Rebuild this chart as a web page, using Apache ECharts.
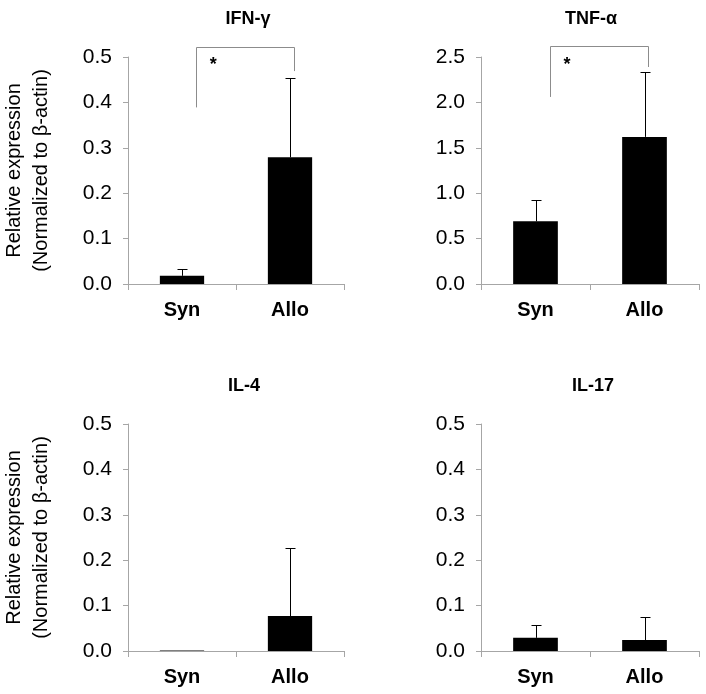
<!DOCTYPE html>
<html>
<head>
<meta charset="utf-8">
<script src="https://cdn.jsdelivr.net/npm/echarts@6/dist/echarts.min.js"></script>
<style>html,body{margin:0;padding:0;background:#fff;}#c{width:706px;height:694px;}</style>
</head>
<body>
<div id="c"></div>
<script>
// ---- data ----
const categories = ['Syn', 'Allo'];
const panelTitles = ['IFN-γ', 'TNF-α', 'IL-4', 'IL-17'];
const ifnMean = [0.018, 0.279];
const ifnUpper = [0.033, 0.453];
const tnfMean = [0.69, 1.62];
const tnfUpper = [0.925, 2.34];
const il4Mean = [0.001, 0.077];
const il4Upper = [0.001, 0.227];
const il17Mean = [0.029, 0.024];
const il17Upper = [0.057, 0.075];
const yMaxes = [0.5, 2.5, 0.5, 0.5];
const yIntervals = [0.1, 0.5, 0.1, 0.1];
// significance brackets: [left leg bottom, top, right leg bottom, star height]
const ifnBracket = [0.389, 0.522, 0.469, 0.482];
const tnfBracket = [2.06, 2.62, 2.39, 2.41];

const means = [ifnMean, tnfMean, il4Mean, il17Mean];
const uppers = [ifnUpper, tnfUpper, il4Upper, il17Upper];
const brackets = [ifnBracket, tnfBracket, null, null];

// ---- layout ----
const FONT = 'Liberation Sans, Arial, Helvetica, sans-serif';
const gridPos = [
  {left: 126, top: 57}, {left: 481, top: 57},
  {left: 126, top: 424}, {left: 481, top: 424}
];
const titlePos = [[243, 5], [586, 5], [239, 372], [588, 372]];
const GW = 218, GH = 227;
const axisGray = '#a6a6a6';

const grids = gridPos.map(g => ({left: g.left, top: g.top, width: GW, height: GH, containLabel: false}));
const xAxes = gridPos.map((g, i) => ({
  type: 'category', gridIndex: i, data: categories,
  axisLine: {lineStyle: {color: axisGray, width: 1}},
  axisTick: {show: true, length: 6, lineStyle: {color: axisGray}},
  axisLabel: {fontFamily: FONT, fontSize: 20, fontWeight: 'bold', color: '#000', margin: 16}
}));
const yAxes = gridPos.map((g, i) => ({
  type: 'value', gridIndex: i, min: 0, max: yMaxes[i], interval: yIntervals[i],
  axisLine: {show: true, lineStyle: {color: axisGray, width: 1}},
  axisTick: {show: true, length: 5, inside: false, lineStyle: {color: axisGray}},
  splitLine: {show: false},
  axisLabel: {fontFamily: FONT, fontSize: 21, color: '#000', margin: 16,
    formatter: v => v.toFixed(1)},
  name: (i % 2 === 0) ? 'Relative expression\n(Normalized to β-actin)' : '',
  nameLocation: 'middle', nameRotate: 90, nameGap: 73,
  nameTextStyle: {fontFamily: FONT, fontSize: 20, color: '#000', lineHeight: 27}
}));

const series = [];
means.forEach((m, i) => {
  series.push({
    type: 'bar', xAxisIndex: i, yAxisIndex: i, data: m, barWidth: '41%',
    itemStyle: {color: '#000'}, silent: true
  });
  series.push({
    type: 'custom', xAxisIndex: i, yAxisIndex: i, silent: true, z: 3,
    data: categories.map((c, k) => [k, m[k], uppers[i][k]]),
    renderItem: function (params, api) {
      const x = api.value(0), mv = api.value(1), uv = api.value(2);
      if (uv <= mv) return null;
      const p0 = api.coord([x, mv]);
      const p1 = api.coord([x, uv]);
      const cx = Math.round(p0[0]) + 0.5;
      const ty = Math.round(p1[1]) + 0.5;
      const cap = 5;
      return {type: 'group', children: [
        {type: 'line', shape: {x1: cx, y1: p0[1], x2: cx, y2: ty}, style: {stroke: '#000', lineWidth: 1}},
        {type: 'line', shape: {x1: cx - cap, y1: ty, x2: cx + cap, y2: ty}, style: {stroke: '#000', lineWidth: 1}}
      ]};
    }
  });
  if (brackets[i]) {
    const b = brackets[i];
    series.push({
      type: 'custom', xAxisIndex: i, yAxisIndex: i, silent: true, clip: false, z: 4,
      data: [[0, 1, b[0], b[1], b[2], b[3]]],
      renderItem: function (params, api) {
        const band = api.size([1, 0])[0];
        const pl = api.coord([api.value(0), api.value(2)]);
        const pt = api.coord([api.value(0), api.value(3)]);
        const pr = api.coord([api.value(1), api.value(4)]);
        const ps = api.coord([api.value(0), api.value(5)]);
        const xl = Math.round(pl[0] + 0.13 * band) + 0.5;
        const xr = Math.round(pr[0] + 0.035 * band) + 0.5;
        const yt = Math.round(pt[1]) + 0.5;
        return {type: 'group', children: [
          {type: 'polyline', shape: {points: [[xl, pl[1]], [xl, yt], [xr, yt], [xr, pr[1]]]},
            style: {stroke: '#8c8c8c', lineWidth: 1, fill: null}},
          {type: 'text', x: ps[0] + 0.29 * band, y: ps[1],
            style: {text: '*', font: 'bold 18px ' + FONT, fill: '#000', align: 'center', verticalAlign: 'middle'}}
        ]};
      }
    });
  }
});

const titles = panelTitles.map((t, i) => ({
  text: t, left: titlePos[i][0], top: titlePos[i][1], textAlign: 'center',
  textStyle: {fontFamily: FONT, fontSize: 18, fontWeight: 'bold', color: '#000'}
}));

const chart = echarts.init(document.getElementById('c'), null, {renderer: 'canvas'});
chart.setOption({
  animation: false,
  backgroundColor: '#fff',
  title: titles,
  grid: grids,
  xAxis: xAxes,
  yAxis: yAxes,
  series: series
});
</script>
</body>
</html>
